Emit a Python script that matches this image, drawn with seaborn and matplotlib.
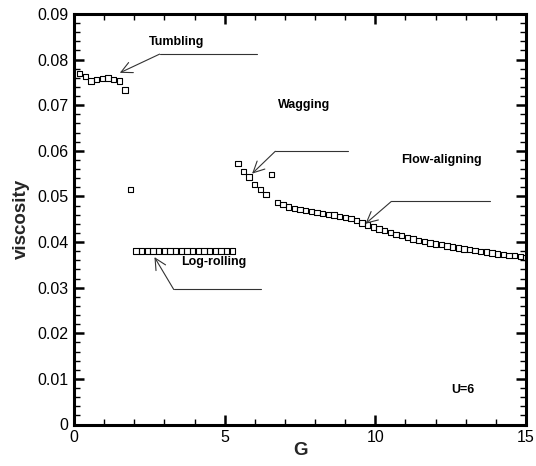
import matplotlib
matplotlib.use("Agg")
import matplotlib.pyplot as plt
import seaborn as sns
import pandas as pd
from matplotlib.ticker import MultipleLocator, FixedLocator, FixedFormatter

# ---- data: viscosity versus shear parameter G, grouped by flow regime ----
tumbling_G = [0.1875, 0.375, 0.5625, 0.75, 0.9375, 1.125, 1.3125, 1.5, 1.6875, 1.875]
tumbling_visc = [0.0769, 0.0763, 0.0753, 0.0757, 0.0758, 0.0760, 0.0756, 0.0753, 0.0733, 0.0515]

logroll_G = [2.0625, 2.25, 2.4375, 2.625, 2.8125, 3.0, 3.1875, 3.375, 3.5625,
             3.75, 3.9375, 4.125, 4.3125, 4.5, 4.6875, 4.875, 5.0625, 5.25]
logroll_visc = [0.0380] * 18

wagging_G = [5.4375, 5.625, 5.8125, 6.0, 6.1875, 6.375, 6.5625]
wagging_visc = [0.0572, 0.0555, 0.0543, 0.0526, 0.0515, 0.0504, 0.0548]

flow_G = [6.75, 6.9375, 7.125, 7.3125, 7.5, 7.6875, 7.875, 8.0625, 8.25, 8.4375,
          8.625, 8.8125, 9.0, 9.1875, 9.375, 9.5625, 9.75, 9.9375, 10.125, 10.3125,
          10.5, 10.6875, 10.875, 11.0625, 11.25, 11.4375, 11.625, 11.8125, 12.0,
          12.1875, 12.375, 12.5625, 12.75, 12.9375, 13.125, 13.3125, 13.5, 13.6875,
          13.875, 14.0625, 14.25, 14.4375, 14.625, 14.8125, 15.0]
flow_visc = [0.0487, 0.0482, 0.0477, 0.0474, 0.0471, 0.0469, 0.0467, 0.0465, 0.0463,
             0.0461, 0.0459, 0.0456, 0.0454, 0.0451, 0.0447, 0.0442, 0.0437, 0.0433,
             0.0429, 0.0425, 0.0421, 0.0417, 0.0414, 0.0410, 0.0407, 0.0404, 0.0401,
             0.0398, 0.0396, 0.0394, 0.0391, 0.0389, 0.0387, 0.0385, 0.0383, 0.0381,
             0.0379, 0.0378, 0.0376, 0.0374, 0.0373, 0.0371, 0.0370, 0.0368, 0.0366]

x_ticks = [0, 5, 10, 15]
x_tick_labels = ["0", "5", "10", "15"]
y_ticks = [0, 0.01, 0.02, 0.03, 0.04, 0.05, 0.06, 0.07, 0.08, 0.09]
y_tick_labels = ["0", "0.01", "0.02", "0.03", "0.04", "0.05", "0.06", "0.07", "0.08", "0.09"]

df = pd.DataFrame({
    "G": tumbling_G + logroll_G + wagging_G + flow_G,
    "viscosity": tumbling_visc + logroll_visc + wagging_visc + flow_visc,
})

sns.set_theme(style="ticks")
plt.rcParams["font.family"] = ["Liberation Sans", "DejaVu Sans"]

fig = plt.figure(figsize=(5.36, 4.66), dpi=100)
ax = fig.add_axes([74 / 536, 41.5 / 466, 452 / 536, 410.5 / 466])

sns.scatterplot(data=df, x="G", y="viscosity", ax=ax, marker="s", s=15,
                facecolors="none", edgecolors="black", linewidth=0.8, zorder=3)

ax.set_xlim(0, 15)
ax.set_ylim(0, 0.09)
ax.xaxis.set_major_locator(FixedLocator(x_ticks))
ax.xaxis.set_major_formatter(FixedFormatter(x_tick_labels))
ax.xaxis.set_minor_locator(MultipleLocator(1))
ax.yaxis.set_major_locator(FixedLocator(y_ticks))
ax.yaxis.set_major_formatter(FixedFormatter(y_tick_labels))
ax.yaxis.set_minor_locator(MultipleLocator(0.002))

ax.tick_params(which="both", direction="in", top=True, right=True, colors="black",
               labelsize=11.5)
ax.tick_params(which="major", length=7.5, width=1.8, pad=4)
ax.tick_params(which="minor", length=4, width=1.0)
for sp in ax.spines.values():
    sp.set_linewidth(2.2)
    sp.set_color("black")

ax.set_xlabel("G", fontsize=13.5, fontweight="bold", labelpad=-2)
ax.set_ylabel("viscosity", fontsize=13.5, fontweight="bold", labelpad=5)

# ---- regime labels with leader lines ----
line_kw = dict(color="#333333", lw=0.8)
arrow_kw = dict(arrowstyle="->,head_length=0.8,head_width=0.4", color="#333333",
                lw=0.8, mutation_scale=10, shrinkA=0, shrinkB=0)
label_kw = dict(fontsize=9, fontweight="bold", ha="center", va="center", color="black")


def callout(text, text_xy, tip, elbow, end):
    ax.text(*text_xy, text, **label_kw)
    ax.plot([elbow[0], end], [elbow[1], elbow[1]], **line_kw)
    ax.annotate("", xy=tip, xytext=elbow, arrowprops=arrow_kw)


callout("Tumbling", (3.42, 0.0838), (1.52, 0.0771), (2.84, 0.0812), 6.08)
ax.text(7.62, 0.0701, "Wagging", **label_kw)
ax.plot([6.68, 9.10], [0.0599, 0.0599], **line_kw)
ax.annotate("", xy=(5.91, 0.0550), xytext=(6.68, 0.0599), arrowprops=arrow_kw)
callout("Flow-aligning", (12.21, 0.0579), (9.67, 0.0440), (10.53, 0.0489), 13.82)
callout("Log-rolling", (4.65, 0.0356), (2.67, 0.0367), (3.31, 0.0296), 6.19)
ax.text(12.92, 0.0075, "U=6", **label_kw)

fig.savefig("out.png", dpi=100)
